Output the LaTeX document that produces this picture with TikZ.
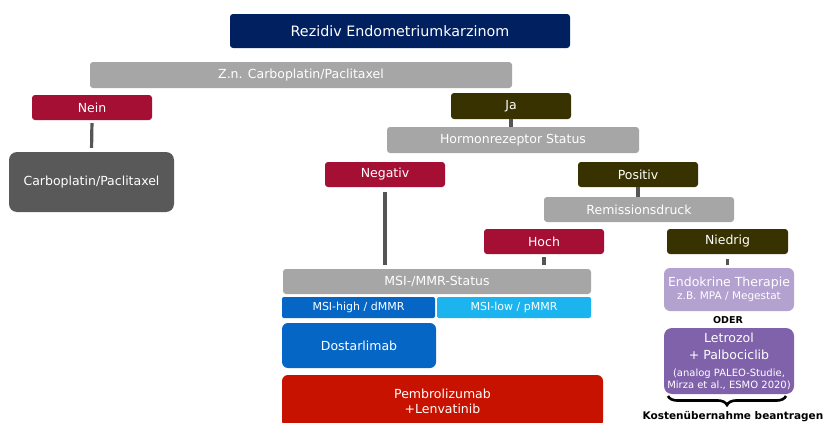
\documentclass[tikz,border=0pt]{standalone}
\usepackage{fontspec}
\setmainfont{DejaVu Sans}
\usetikzlibrary{decorations.pathreplacing}
\definecolor{navy}{HTML}{002060}
\definecolor{lgray}{HTML}{A6A6A6}
\definecolor{crimson}{HTML}{A40F33}
\definecolor{olive}{HTML}{383100}
\definecolor{dgray}{HTML}{595959}
\definecolor{mblue}{HTML}{0666C6}
\definecolor{lblue}{HTML}{1CB4EE}
\definecolor{pred}{HTML}{C81200}
\definecolor{lpurple}{HTML}{B3A2D0}
\definecolor{purple}{HTML}{7F62AA}
\definecolor{linec}{HTML}{555555}
\tikzset{
  box/.style={rounded corners=3pt, inner sep=0pt, text=white, align=center, font=\fontsize{12.5}{14}\selectfont},
  conn/.style={draw=linec, line width=3.2pt},
}
\begin{document}
\begin{tikzpicture}[x=1pt,y=-1pt]
\useasboundingbox (0,0) rectangle (823,423);
\fill[white] (0,0) rectangle (823,423);
% boxes
\node[box, fill=navy, minimum width=340pt, minimum height=34pt, font=\fontsize{14.3}{16}\selectfont] (title) at (400,31) {Rezidiv Endometriumkarzinom};
\node[box, fill=lgray, minimum width=422pt, minimum height=26pt] (zn) at (301,75) {Z.n. Carboplatin/Paclitaxel};
\node[box, fill=crimson, minimum width=120pt, minimum height=25pt] (nein) at (92,107.5) {Nein};
\node[box, fill=dgray, rounded corners=8pt, minimum width=165pt, minimum height=60pt] (carbo) at (91.5,182) {Carboplatin/Paclitaxel};
\node[box, fill=olive, minimum width=120pt, minimum height=26pt] (ja) at (511,106) {Ja};
\node[box, fill=lgray, minimum width=252pt, minimum height=26pt] (hormon) at (513,140) {Hormonrezeptor Status};
\node[box, fill=crimson, minimum width=120pt, minimum height=25pt] (neg) at (385,174.5) {Negativ};
\node[box, fill=olive, minimum width=120pt, minimum height=25pt] (pos) at (638,174.5) {Positiv};
\node[box, fill=lgray, minimum width=190pt, minimum height=25pt] (remis) at (639,209.5) {Remissionsdruck};
\node[box, fill=crimson, minimum width=120pt, minimum height=25pt] (hoch) at (544,241.5) {Hoch};
\node[box, fill=olive, minimum width=121pt, minimum height=25pt] (nied) at (727.5,241.5) {Niedrig};
\node[box, fill=lgray, minimum width=308pt, minimum height=25pt] (msi) at (437,281.5) {MSI-/MMR-Status};
\node[box, fill=mblue, rounded corners=2pt, minimum width=153pt, minimum height=21pt, font=\fontsize{11}{12}\selectfont] (high) at (358.5,307.5) {MSI-high / dMMR};
\node[box, fill=lblue, rounded corners=2pt, minimum width=154pt, minimum height=21pt, font=\fontsize{11}{12}\selectfont] (low) at (514,307.5) {MSI-low / pMMR};
\node[box, fill=mblue, rounded corners=6pt, minimum width=154pt, minimum height=45pt] (dostar) at (359,345.5) {Dostarlimab};
\node[box, fill=pred, rounded corners=6pt, minimum width=321pt, minimum height=52pt, font=\fontsize{12.5}{15}\selectfont] (pembro) at (442.5,401) {Pembrolizumab\\+Lenvatinib};
\node[box, fill=lpurple, rounded corners=6pt, minimum width=130pt, minimum height=43pt, font=\fontsize{12.5}{13}\selectfont] (endo) at (729,289.5) {Endokrine Therapie\\{\fontsize{10.5}{13}\selectfont z.B. MPA / Megestat}};
\node[inner sep=0pt, font=\bfseries\fontsize{9.5}{10}\selectfont] (oder) at (728,320) {ODER};
\node[box, fill=purple, rounded corners=8pt, minimum width=130pt, minimum height=66pt, font=\fontsize{12.5}{13}\selectfont] (letro) at (729,361) {Letrozol\\[4pt]+ Palbociclib\\[4pt]{\fontsize{10}{13}\selectfont (analog PALEO-Studie,}\\[-1pt]{\fontsize{10}{13}\selectfont Mirza et al., ESMO 2020)}};
\node[inner sep=0pt, font=\bfseries\fontsize{10.5}{11}\selectfont] (kosten) at (733,416.5) {Kostenübernahme beantragen};
% connectors
\draw[conn, shorten <=3pt, shorten >=4pt] (nein.south) -- (carbo.north);
\draw[conn] (ja.south) -- (ja.south |- hormon.north);
\draw[conn, shorten <=5pt, shorten >=4pt] (neg.south) -- (neg.south |- msi.north);
\draw[conn] (pos.south) -- (pos.south |- remis.north);
\draw[conn, shorten <=3pt, shorten >=4pt] (hoch.south) -- (hoch.south |- msi.north);
\draw[conn, shorten <=5pt, shorten >=3pt] (nied.south) -- (nied.south |- endo.north);
% brace
\coordinate (bl) at (668,396);
\coordinate (br) at (786,396);
\draw[line width=2.6pt, decorate, decoration={brace, mirror, amplitude=9pt}] (bl) -- (br);
\end{tikzpicture}
\end{document}
